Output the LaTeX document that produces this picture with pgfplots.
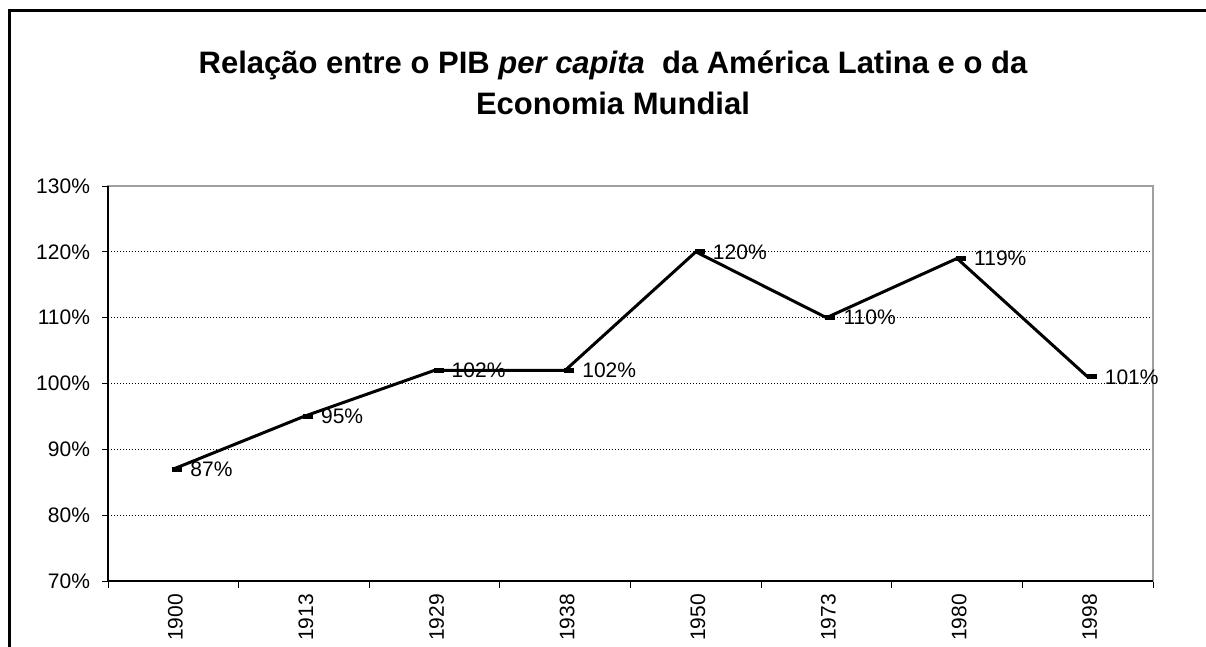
\documentclass[border=0pt]{standalone}
\usepackage{fontspec}
\setmainfont{Liberation Sans}
\usepackage{pgfplots}
\pgfplotsset{compat=1.18}
\pgfdeclareplotmark{dashr}{%
  \pgfpathrectangle{\pgfpoint{-0.5pt}{-1.25pt}}{\pgfpoint{5pt}{2.5pt}}%
  \pgfusepathqfill}
\begin{document}
\begin{tikzpicture}[x=1pt,y=1pt]
\useasboundingbox (0,0) rectangle (603,-323.5);
\draw[line width=1.2pt] (4.75,-340) -- (4.75,-5.3) -- (620,-5.3);
\node[align=center,font=\fontsize{15.5}{20.5}\selectfont\bfseries] at (306.5,-41.25)
  {Relação entre o PIB \textit{per capita}\ \ da América Latina e o da\\Economia Mundial};
\begin{axis}[
  at={(54pt,-290.5pt)}, anchor=south west,
  scale only axis, width=522.5pt, height=197.5pt,
  xmin=-0.5, xmax=7.5, ymin=70, ymax=130,
  clip=false,
  axis line style={draw=gray!75, line width=0.6pt},
  xtick={0,...,7},
  xticklabels={1900,1913,1929,1938,1950,1973,1980,1998},
  major x tick style={draw=none},
  minor xtick={-0.5,0.5,...,7.5},
  minor tick length=3.5pt,
  major tick length=3pt,
  tick align=outside,
  xtick pos=bottom, ytick pos=left,
  tick style={black, line width=0.5pt},
  ytick={70,80,...,130},
  yticklabels={70\%,80\%,90\%,100\%,110\%,120\%,130\%},
  ticklabel style={font=\fontsize{10.5}{12}\selectfont},
  yticklabel style={xshift=-2.5pt},
  xticklabel style={rotate=90, anchor=east, yshift=-1pt},
  ymajorgrids,
  major grid style={black, line width=0.5pt, dash pattern=on 0.5pt off 1pt},
  point meta=explicit symbolic,
  nodes near coords,
  every node near coord/.append style={anchor=west, xshift=4.5pt, font=\fontsize{10.5}{12}\selectfont, text=black},
]
\draw[black, line width=0.6pt] (rel axis cs:0,1) -- (rel axis cs:0,0) -- (rel axis cs:1,0);
\addplot[black, line width=1.5pt, mark=dashr, mark options={solid}] coordinates {
  (0,87) [87\%]
  (1,95) [95\%]
  (2,102) [102\%]
  (3,102) [102\%]
  (4,120) [120\%]
  (5,110) [110\%]
  (6,119) [119\%]
  (7,101) [101\%]
};
\end{axis}
\end{tikzpicture}
\end{document}
